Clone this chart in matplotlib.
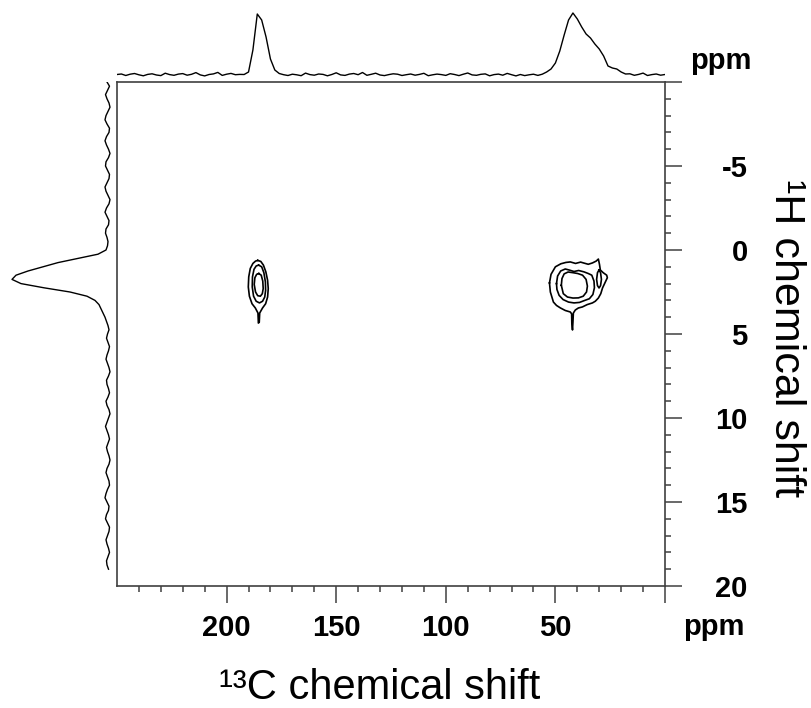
import numpy as np
import matplotlib.pyplot as plt
from matplotlib.ticker import FixedLocator

plt.rcParams['font.family'] = ['Liberation Sans', 'DejaVu Sans']

# 13C projection (top trace), height above baseline, ppm 250 -> 0 in steps of 2
c13_ppm = np.arange(250, -1, -2)
c13_int = [
    0.5, 1.0, -0.5, 0.8, 1.5, 0.2, -0.8, 0.6, 1.2, 0.0,
    -0.6, 1.8, 0.4, -0.3, 0.9, 1.4, -0.2, 0.7, 2.4, 0.1,
    -0.9, 0.5, 1.1, 2.6, -0.4, 0.8, 1.6, 0.3, 0.6,
    # carbonyl peak ~185 ppm
    0.5, 3, 25, 61, 55, 38, 16, 5, 1.5,
    0.3, -0.5, 0.8, 0.2, -0.7, 1.9, 0.4, -0.2, 1.0, 0.6,
    -0.8, 0.5, 2.2, 0.1, -0.4, 0.9, 1.5, 0.3, 2.5, -0.3,
    0.7, 1.8, 0.0, -0.6, 0.4, 1.2, 0.8, -0.5, 0.3, 1.0,
    -0.2, 0.6, 1.7, -0.7, 0.2, 0.9, 0.4, -0.4, 1.3, 0.5,
    -0.6, 0.8, 2.0, 0.1, -0.3, 0.7, 1.1, -0.8, 0.4, 0.9,
    -0.2, 1.6, 0.3, -0.9, 0.5, -0.6, 0.2, 0.8, -0.4,
    # aliphatic peak ~43 ppm
    0.8, 3, 6, 12, 24, 40, 55, 62, 56, 48,
    41, 37, 31, 26, 19, 9, 7, 6, 3, 1,
    1.2, -0.3, 0.6, 1.9, -0.5, 0.4, 1.0, -0.2, 0.5,
]
assert len(c13_int) == len(c13_ppm)

# 1H projection (left trace), height, ppm -10 -> 19 in steps of 0.25
h1_ppm = np.arange(-10, 19.01, 0.25)
h1_int = [
    1, -1.5, 0.5, 2.5, 1, -1, -2, 0, 2, 3,
    1, -1.5, -1, 1.5, 3, 1.5, -0.5, -2, -0.5, 2,
    2.5, 0.5, -1.5, -1, 1, 3, 2, 0, -2, -1,
    1.5, 3, 1, -1, -0.5, 2, 2.5, 1, 0,
    # peak ~1.8 ppm
    0.5, 2, 10, 30, 50, 65, 80, 92, 96, 87,
    64, 38, 21, 13, 9, 7, 5, 3, 1.5,
    0, -1, 0.5, 1.5, 0, -1.5, -0.5, 1, 2, 0.5,
    -1, -2, -0.5, 1.5, 1, -0.5, -1.5, 0, 2, 1,
    -1, -2, -0.5, 1, 2.5, 1, -0.5, -1.5, 0, 1.5,
    0.5, -1, -2, -1, 1, 2, 0.5, -1, -1.5, 0.5,
    2, 3, 1, -1, -0.5, 1.5, 2.5, 0.5, -1.5, -1,
    0.5, 2, 1, -0.5, -1.5, 0, 1.5, 1, -0.5,
]
assert len(h1_int) == len(h1_ppm)

# contour outlines, (13C ppm, 1H ppm)
co_outer = [(185.8, 0.62), (184.4, 0.68), (183.2, 0.9), (182.1, 1.3), (181.3, 1.8),
            (181.0, 2.3), (181.3, 2.8), (182.2, 3.2), (183.6, 3.45), (184.9, 3.75),
            (185.1, 4.3), (185.5, 4.35), (185.7, 3.75), (186.9, 3.45), (188.4, 3.2),
            (189.6, 2.75), (190.1, 2.2), (189.9, 1.6), (189.2, 1.1), (188.0, 0.8),
            (186.8, 0.66), (185.8, 0.62)]
co_mid = [(185.4, 0.9), (184.0, 1.0), (183.0, 1.35), (182.3, 1.9), (182.2, 2.4),
          (182.6, 2.8), (183.6, 3.05), (185.0, 3.15), (186.5, 3.05), (187.7, 2.75),
          (188.3, 2.2), (188.2, 1.6), (187.5, 1.15), (186.5, 0.95), (185.4, 0.9)]
co_inner = [(185.3, 1.4), (184.2, 1.5), (183.5, 1.85), (183.3, 2.3), (183.7, 2.6),
            (184.6, 2.75), (185.8, 2.72), (186.8, 2.5), (187.4, 2.05), (187.1, 1.65),
            (186.3, 1.45), (185.3, 1.4)]
ca_outer = [(52.7, 1.96), (52.0, 1.45), (50.0, 1.0), (47.5, 0.82), (45.2, 0.74),
            (43.2, 0.71), (40.8, 0.8), (38.5, 0.72), (37.2, 0.77), (35.0, 0.85),
            (33.1, 0.77), (31.4, 0.66), (30.4, 0.54), (29.9, 0.85), (29.5, 1.19),
            (28.2, 1.35), (26.6, 1.5), (26.3, 1.65), (27.2, 1.9), (28.5, 2.26),
            (29.3, 2.6), (30.4, 2.86), (31.8, 3.05), (33.1, 3.15), (35.5, 3.25),
            (37.7, 3.39), (39.5, 3.45), (40.9, 3.57), (41.8, 3.75), (42.0, 4.3),
            (42.2, 4.76), (42.5, 4.4), (42.6, 3.8), (43.2, 3.69), (45.5, 3.6),
            (47.7, 3.45), (49.5, 3.3), (50.9, 3.1), (52.3, 2.5), (52.7, 1.96)]
ca_mid = [(49.5, 2.0), (49.0, 1.55), (47.6, 1.25), (45.5, 1.13), (43.5, 1.2),
          (41.5, 1.28), (39.4, 1.22), (37.0, 1.3), (35.0, 1.4), (33.4, 1.5),
          (32.4, 1.85), (32.2, 2.25), (32.9, 2.65), (34.5, 2.9), (36.6, 3.0),
          (39.0, 3.12), (41.5, 3.15), (44.0, 3.1), (46.5, 2.95), (48.3, 2.7),
          (49.3, 2.35), (49.5, 2.0)]
ca_inner = [(47.3, 2.1), (47.0, 1.7), (46.0, 1.42), (44.2, 1.31), (42.0, 1.35),
            (39.8, 1.4), (37.6, 1.5), (36.0, 1.75), (35.4, 2.15), (35.8, 2.5),
            (37.3, 2.75), (39.5, 2.85), (42.0, 2.86), (44.5, 2.8), (46.4, 2.6),
            (47.3, 2.1)]
cs_small = [(30.1, 1.19), (29.4, 1.35), (29.0, 1.75), (29.4, 2.12), (30.1, 2.26),
            (30.8, 2.12), (31.2, 1.75), (30.8, 1.35), (30.1, 1.19)]
contours = [co_outer, co_mid, co_inner, ca_outer, ca_mid, ca_inner, cs_small]

x_major = [200, 150, 100, 50, 0]
x_labels = ['200', '150', '100', '50', '']
y_major = [-10, -5, 0, 5, 10, 15, 20]
y_labels = ['', '-5', '0', '5', '10', '15', '20']

W, H = 812, 708
AX = '#404040'


def rect(x0, y0, x1, y1):
    return [x0 / W, 1 - y1 / H, (x1 - x0) / W, (y1 - y0) / H]


fig = plt.figure(figsize=(W / 100, H / 100), dpi=100)
ax = fig.add_axes(rect(117, 82, 665, 586))
top = fig.add_axes(rect(117, 0, 665, 82))
left = fig.add_axes(rect(0, 82, 117, 586))

for c in contours:
    c = np.array(c)
    ax.plot(c[:, 0], c[:, 1], color='black', lw=1.2)

ax.set_xlim(250, 0)
ax.set_ylim(20, -10)
ax.yaxis.tick_right()
ax.xaxis.tick_bottom()
ax.xaxis.set_major_locator(FixedLocator(x_major))
ax.set_xticklabels(x_labels)
ax.xaxis.set_minor_locator(FixedLocator([v for v in range(240, 0, -10) if v % 50]))
ax.yaxis.set_major_locator(FixedLocator(y_major))
ax.set_yticklabels(y_labels)
ax.yaxis.set_minor_locator(FixedLocator([v for v in range(-9, 20) if v % 5]))
for s in ax.spines.values():
    s.set_color(AX)
    s.set_linewidth(1.2)
ax.tick_params(which='major', direction='out', length=12.5, width=1.1, color=AX,
               labelsize=21)
ax.tick_params(which='minor', direction='out', length=4.5, width=1.1, color=AX)
ax.tick_params(axis='x', which='major', pad=8)
ax.tick_params(axis='y', which='major', pad=47)
for t in ax.get_xticklabels() + ax.get_yticklabels():
    t.set_fontweight('bold')
for t in ax.get_yticklabels():
    t.set_ha('right')

top.plot(c13_ppm, c13_int, color='black', lw=1.0)
top.set_xlim(250, 0)
top.set_ylim(-7, 75)
top.axis('off')

left.plot(h1_int, h1_ppm, color='black', lw=1.0)
left.set_ylim(20, -10)
left.set_xlim(108, -9)
left.axis('off')

fig.text(690 / W, 1 - 69 / H, 'ppm', ha='left', va='baseline', fontsize=21,
         fontweight='bold')
fig.text(683 / W, 1 - 635 / H, 'ppm', ha='left', va='baseline', fontsize=21,
         fontweight='bold')
fig.text(380 / W, 1 - 699 / H, '¹³C chemical shift', ha='center', va='baseline',
         fontsize=30)
fig.text(786 / W, 1 - 338 / H, '¹H chemical shift', ha='center', va='center',
         rotation=-90, fontsize=31)

fig.savefig('out.png', dpi=100)
